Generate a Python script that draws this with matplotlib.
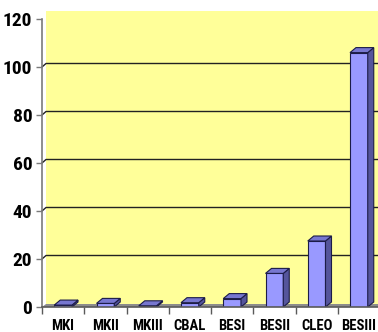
import matplotlib
matplotlib.use("Agg")
import matplotlib.pyplot as plt
from matplotlib.patches import Polygon
from matplotlib import font_manager
import numpy as np

# Data: psi(2S) samples (millions of events) per experiment
experiments = ["MKI", "MKII", "MKIII", "CBAL", "BESI", "BESII", "CLEO", "BESIII"]
events = [0.8, 1.5, 0.5, 1.8, 3.5, 14.0, 27.5, 106.0]
yticks = [0, 20, 40, 60, 80, 100, 120]

FRONT = "#9999FF"
SIDE = "#55559C"
TOP = "#7777D0"
EDGE = "#1C1C48"
WALL = "#FFFF99"
FLOOR = "#8C8C8C"

# pick a narrow bold face if one is available
_fonts = font_manager.fontManager.ttflist
_names = {f.name for f in _fonts}
font_kw = None
for cand in ["Liberation Sans Narrow", "Roboto Condensed", "Open Sans Condensed",
             "DejaVu Sans Condensed", "Noto Sans Condensed"]:
    if cand in _names:
        font_kw = dict(family=[cand, "DejaVu Sans"])
        break
if font_kw is None:
    if any(f.name == "DejaVu Sans" and f.stretch == "condensed" for f in _fonts):
        font_kw = dict(family=["DejaVu Sans"], stretch="condensed")
    elif any(f.name == "Noto Sans" and f.stretch in ("condensed", "semi-condensed",
                                                     "extra-condensed") for f in _fonts):
        font_kw = dict(family=["Noto Sans"], stretch="condensed")
    else:
        font_kw = dict(family=["DejaVu Sans"])
narrow = font_kw.get("stretch") or font_kw["family"][0] != "DejaVu Sans"
ysize = 14 if narrow else 11.5
xsize = 10.5 if narrow else 8

fig = plt.figure(figsize=(3.78, 3.32), dpi=100)
fig.patch.set_facecolor("white")
ax = fig.add_axes([42 / 378, 25 / 332, 338 / 378, 288 / 332])
ax.set_xlim(-0.5, len(experiments) - 0.5)
ax.set_ylim(0, 120)
ax.patch.set_visible(False)
for s in ("top", "right"):
    ax.spines[s].set_visible(False)
ax.spines["left"].set_color("#7a7a7a")
ax.spines["left"].set_linewidth(1.2)
ax.spines["bottom"].set_color("#5a5a5a")
ax.spines["bottom"].set_linewidth(1.2)
ax.spines["left"].set_zorder(6)
ax.spines["bottom"].set_zorder(6)

fig.canvas.draw()


def px_to_data(dx_px, dy_px):
    inv = ax.transData.inverted()
    p0 = ax.transData.transform((0, 0))
    x1, y1 = inv.transform(p0 + np.array([dx_px, dy_px]))
    x0, y0 = inv.transform(p0)
    return x1 - x0, y1 - y0


# back wall and floor (offset for depth)
wdx, wdy = px_to_data(4, 3.5)
x_lo, x_hi = -0.5, len(experiments) - 0.5
wall = Polygon([(x_lo + wdx, wdy), (x_hi + 1, wdy), (x_hi + 1, 123.5),
                (x_lo + wdx, 123.5)], closed=True, facecolor=WALL,
               edgecolor="none", zorder=0, clip_on=False)
ax.add_patch(wall)
floor = Polygon([(x_lo, 0), (x_hi + 1, 0), (x_hi + 1, wdy), (x_lo + wdx, wdy)],
                closed=True, facecolor=FLOOR, edgecolor="none", zorder=1,
                clip_on=False)
ax.add_patch(floor)

# gridlines on the back wall
for v in yticks[1:-1]:
    ax.plot([x_lo, x_lo + wdx, x_hi + 1], [v, v + wdy, v + wdy], color="#222222",
            lw=1.0, zorder=1, clip_on=False)

# 3-D style bars
bw = 0.42
bdx, bdy = px_to_data(6, 5)
xs = np.arange(len(experiments))
ax.bar(xs, events, width=bw, color=FRONT, edgecolor=EDGE, linewidth=0.8, zorder=3)
for x, v in zip(xs, events):
    l, r = x - bw / 2, x + bw / 2
    top = Polygon([(l, v), (r, v), (r + bdx, v + bdy), (l + bdx, v + bdy)],
                  closed=True, facecolor=TOP, edgecolor=EDGE, lw=0.8, zorder=3)
    side = Polygon([(r, 0), (r + bdx, bdy), (r + bdx, v + bdy), (r, v)],
                   closed=True, facecolor=SIDE, edgecolor=EDGE, lw=0.8, zorder=3)
    ax.add_patch(side)
    ax.add_patch(top)

# axes ticks and labels
ax.set_yticks(yticks)
ax.set_yticklabels([str(t) for t in yticks], fontweight="bold", fontsize=ysize,
                   **font_kw)
ax.tick_params(axis="y", length=4, width=1, color="#7a7a7a", pad=3)
ax.set_xticks(xs)
ax.set_xticklabels(experiments, fontweight="bold", fontsize=xsize, **font_kw)
ax.tick_params(axis="x", length=0, pad=9)
ax.set_xticks(np.arange(len(experiments) + 1) - 0.5, minor=True)
ax.tick_params(axis="x", which="minor", length=5, width=1, color="#5a5a5a")

fig.savefig("out.png", dpi=100, facecolor="white")
